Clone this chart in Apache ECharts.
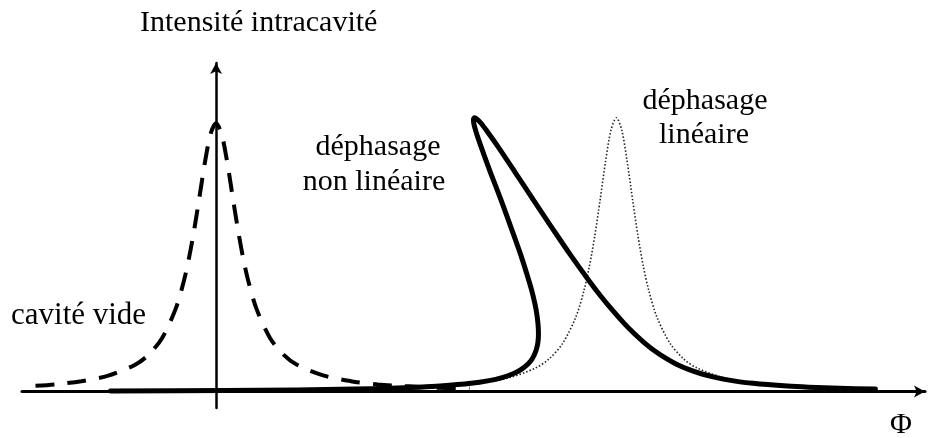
<!DOCTYPE html>
<html>
<head>
<meta charset="utf-8">
<script src="https://cdn.jsdelivr.net/npm/echarts@6/dist/echarts.min.js"></script>
<style>
  html, body { margin: 0; padding: 0; background: #fff; }
  #main { width: 933px; height: 438px; }
</style>
</head>
<body>
<div id="main"></div>
<script>
// cavite vide (tirets)
var emptyPhi = [-6.7, -6, -5, -4, -3, -2.5, -2, -1.5, -1.2, -1, -0.8, -0.6, -0.4, -0.2, 0,
    0.2, 0.4, 0.6, 0.8, 1, 1.2, 1.5, 2, 2.5, 3, 4, 5, 6, 7, 8, 9.4];
var emptyI = [0.021, 0.026, 0.038, 0.058, 0.098, 0.135, 0.196, 0.302, 0.402, 0.49, 0.598, 0.721, 0.845, 0.942, 0.98,
    0.942, 0.845, 0.721, 0.598, 0.49, 0.402, 0.302, 0.196, 0.135, 0.098, 0.058, 0.038, 0.026, 0.02, 0.015, 0.011];

// dephasage lineaire (pointilles)
var linPhi = [6.5, 8.85, 9.85, 10.85, 11.85, 12.35, 12.85, 13.35, 13.65, 13.85, 14.05, 14.25, 14.45, 14.65, 14.85,
    15.05, 15.25, 15.45, 15.65, 15.85, 16.05, 16.35, 16.85, 17.35, 17.85, 18.85, 19.85, 20.85, 22.85];
var linI = [0.012, 0.023, 0.033, 0.05, 0.086, 0.119, 0.175, 0.273, 0.37, 0.458, 0.569, 0.702, 0.841, 0.955, 1.0,
    0.955, 0.841, 0.702, 0.569, 0.458, 0.37, 0.273, 0.175, 0.119, 0.086, 0.05, 0.033, 0.023, 0.013];

// dephasage non lineaire (trait epais, courbe bistable)
var nlPhi = [-3.92, 0.31, 2.98, 5.15, 6.44, 7.55, 8.31, 9.46, 10.13, 10.58, 11.02, 11.31, 11.56, 11.73, 11.87,
    11.94, 11.96, 11.94, 11.87, 11.76, 11.62, 11.30, 10.94, 10.57, 10.18, 9.81, 9.64, 9.56, 9.55, 9.59,
    9.68, 9.83, 10.06, 10.42, 11.10, 11.77, 12.45, 13.14, 13.87, 14.26, 14.68, 15.13, 15.53, 15.87, 16.25,
    16.71, 17.08, 17.55, 18.00, 18.60, 19.15, 19.92, 21.19, 21.98, 23.14, 24.46];
var nlI = [0.0024, 0.004, 0.006, 0.009, 0.012, 0.016, 0.02, 0.03, 0.04, 0.05, 0.065, 0.08, 0.1, 0.12, 0.15,
    0.18, 0.21, 0.25, 0.3, 0.35, 0.4, 0.5, 0.6, 0.7, 0.8, 0.9, 0.95, 0.98, 0.995, 1.0,
    0.995, 0.98, 0.95, 0.9, 0.8, 0.7, 0.6, 0.5, 0.4, 0.35, 0.3, 0.25, 0.21, 0.18, 0.15,
    0.12, 0.1, 0.08, 0.065, 0.05, 0.04, 0.03, 0.02, 0.016, 0.012, 0.009];

function pairs(xs, ys) {
    var out = [];
    for (var i = 0; i < xs.length; i++) {
        out.push([xs[i], ys[i]]);
    }
    return out;
}

var serif = 'Liberation Serif';
function label(txt, x, y, align, size) {
    return {
        type: 'text',
        x: x,
        y: y,
        style: {
            text: txt,
            fill: '#000',
            font: (size || 30) + 'px "' + serif + '"',
            align: align || 'center',
            verticalAlign: 'middle'
        }
    };
}

var chart = echarts.init(document.getElementById('main'));
chart.setOption({
    animation: false,
    backgroundColor: '#fff',
    grid: { left: 22, right: 8, top: 63, bottom: 30, containLabel: false },
    xAxis: {
        type: 'value',
        min: -7.2,
        max: 26.3,
        axisLine: {
            onZero: true,
            symbol: ['none', 'arrow'],
            symbolSize: [9, 11],
            lineStyle: { color: '#000', width: 3 }
        },
        axisTick: { show: false },
        axisLabel: { show: false },
        splitLine: { show: false }
    },
    yAxis: {
        type: 'value',
        min: -0.06,
        max: 1.2,
        axisLine: {
            show: true,
            onZero: true,
            symbol: ['none', 'arrow'],
            symbolSize: [9, 11],
            lineStyle: { color: '#000', width: 2.5 }
        },
        axisTick: { show: false },
        axisLabel: { show: false },
        splitLine: { show: false }
    },
    series: [
        {
            name: 'déphasage linéaire',
            type: 'line',
            data: pairs(linPhi, linI),
            showSymbol: false,
            smooth: 0.3,
            lineStyle: { color: '#222', width: 1.6, type: [1.5, 2] }
        },
        {
            name: 'cavité vide',
            type: 'line',
            data: pairs(emptyPhi, emptyI),
            showSymbol: false,
            smooth: 0.3,
            lineStyle: { color: '#000', width: 4, type: [19, 13] }
        },
        {
            name: 'déphasage non linéaire',
            type: 'line',
            data: pairs(nlPhi, nlI),
            showSymbol: false,
            smooth: 0.3,
            lineStyle: { color: '#000', width: 5, cap: 'round', join: 'round' }
        }
    ],
    graphic: [
        label('Intensité intracavité', 140, 23, 'left'),
        label('déphasage', 378, 147),
        label('non linéaire', 374, 182),
        label('déphasage', 705, 101),
        label('linéaire', 704, 135),
        label('cavité vide', 11, 316, 'left', 31),
        label('Φ', 901, 425)
    ]
});
</script>
</body>
</html>
